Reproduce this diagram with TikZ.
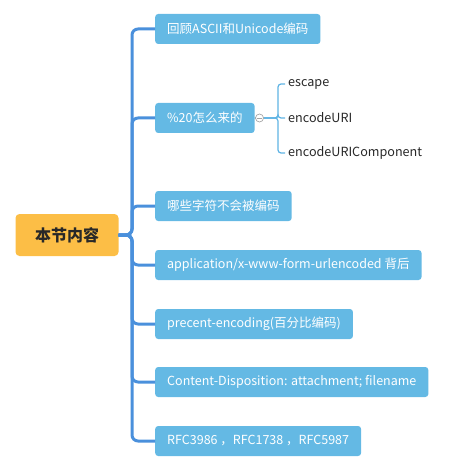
\documentclass[tikz,border=0pt]{standalone}
\usepackage{fontspec}
\setmainfont{Noto Sans CJK SC}
\usetikzlibrary{calc}

\definecolor{trunkblue}{RGB}{74,144,220}
\definecolor{boxblue}{RGB}{100,185,228}
\definecolor{leafblue}{RGB}{96,180,228}
\definecolor{rootorange}{RGB}{252,190,70}
\definecolor{darktext}{RGB}{40,40,40}

\tikzset{
  topic/.style={fill=boxblue, text=white, rounded corners=3pt, anchor=west,
    minimum height=30pt, inner xsep=12pt, font=\fontsize{12.5}{14}\selectfont},
  leaf/.style={anchor=west, inner sep=0pt, text=darktext, font=\fontsize{12.6}{14}\selectfont},
  trunk/.style={trunkblue, line width=3pt, rounded corners=6pt},
  twig/.style={leafblue, line width=1.2pt, rounded corners=3pt}
}

\begin{document}
\begin{tikzpicture}[x=1pt, y=-1pt]
  \useasboundingbox (0,0) rectangle (466,470);

  \node [fill=rootorange, rounded corners=4pt, minimum width=103pt, minimum height=42pt,
    text=darktext, font=\fontsize{16}{18}\selectfont\bfseries] (root) at (67,235) {本节内容};
  \coordinate (J) at (132,235);

  \node [topic] (ascii) at (155,29) {回顾ASCII和Unicode编码};
  \node [topic] (pct) at (155,118) {\%20怎么来的};
  \node [topic] (safe) at (155,206) {哪些字符不会被编码};
  \node [topic] (form) at (155,265) {application/x-www-form-urlencoded 背后};
  \node [topic] (penc) at (155,324) {precent-encoding(百分比编码)};
  \node [topic] (cdisp) at (155,382) {Content-Disposition: attachment; filename};
  \node [topic] (rfc) at (155,441) {RFC3986 ，RFC1738 ，RFC5987};

  \draw [trunk] (root.east) -- (J) |- (ascii.west);
  \draw [trunk] (root.east) -- (J) |- (pct.west);
  \draw [trunk] (root.east) -- (J) |- (safe.west);
  \draw [trunk] (root.east) -- (J) |- (form.west);
  \draw [trunk] (root.east) -- (J) |- (penc.west);
  \draw [trunk] (root.east) -- (J) |- (cdisp.west);
  \draw [trunk] (root.east) -- (J) |- (rfc.west);

  % children of %20
  \coordinate (K) at (278,118);
  \node [leaf] (esc) at (288,84) {escape};
  \node [leaf] (uri) at (288,118) {encodeURI};
  \node [leaf] (comp) at (288,153) {encodeURIComponent};

  \draw [twig] (pct.east) -- (K) |- ($(esc.west)+(-3,0)$);
  \draw [twig] (pct.east) -- (K) |- ($(uri.west)+(-3,0)$);
  \draw [twig] (pct.east) -- (K) |- ($(comp.west)+(-3,0)$);

  \coordinate (C) at (259.5,118);
  \draw [gray!70, fill=white, line width=0.7pt] (C) circle [radius=4pt];
  \draw [gray!70, line width=0.7pt] ($(C)+(-2.5,0)$) -- ($(C)+(2.5,0)$);
\end{tikzpicture}
\end{document}
